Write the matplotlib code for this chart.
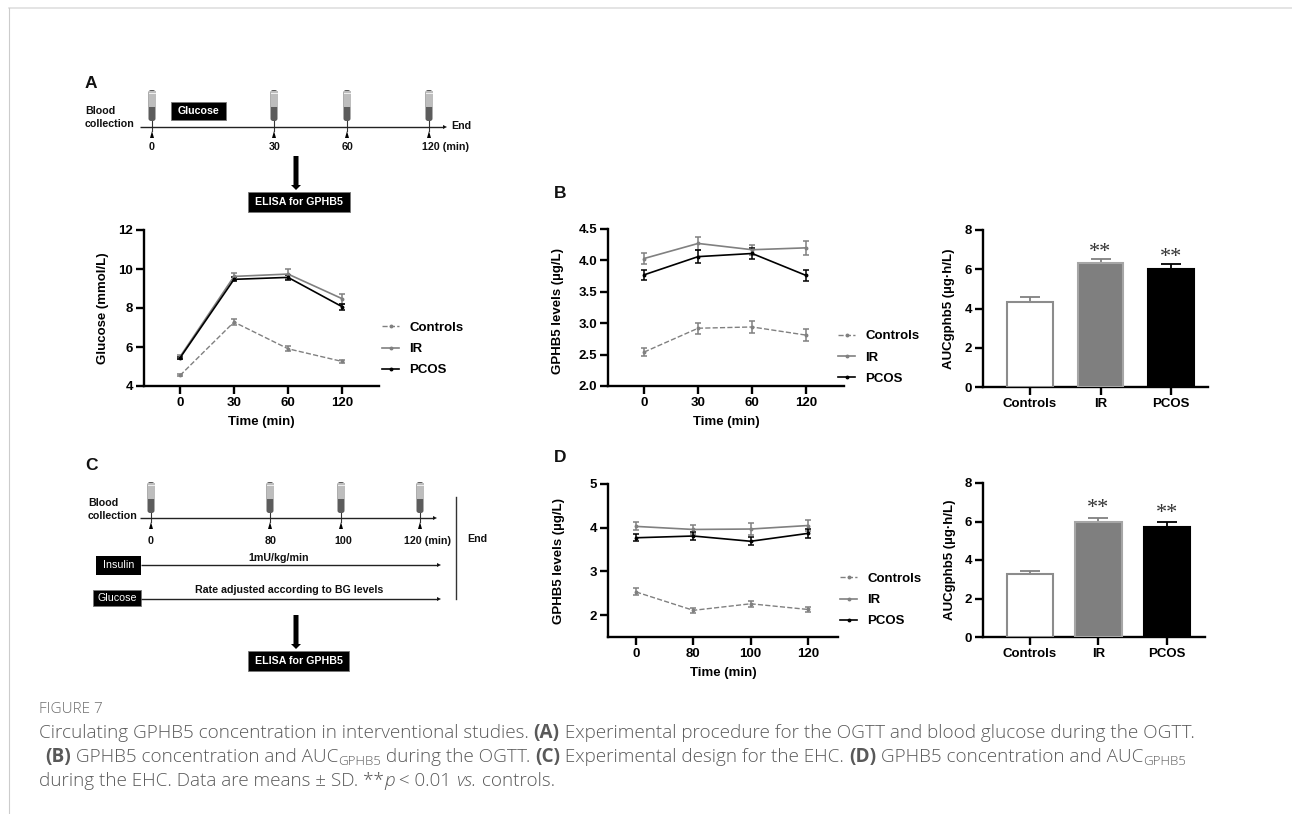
"""plot.py - Figure 7: GPHB5 during OGTT and EHC, with the two protocol schematics."""

import matplotlib
matplotlib.use("Agg")
import matplotlib.pyplot as plt
from matplotlib.patches import FancyBboxPatch, Polygon, Rectangle

W, H = 1292, 814
FONT = "Liberation Sans"
CAPTION_FONT = "Open Sans"
GREY = "#808080"
AXIS_FS = 9.5

# panel A, glucose
glucose_times = ["0", "30", "60", "120"]
glucose_controls = [4.54, 7.28, 5.91, 5.26]
glucose_controls_sd = [0.05, 0.17, 0.14, 0.09]
glucose_ir = [5.50, 9.62, 9.74, 8.48]
glucose_ir_sd = [0.09, 0.16, 0.27, 0.25]
glucose_pcos = [5.44, 9.47, 9.57, 8.07]
glucose_pcos_sd = [0.07, 0.10, 0.14, 0.16]

# panel B, GPHB5 during the OGTT
ogtt_times = ["0", "30", "60", "120"]
ogtt_controls = [2.54, 2.92, 2.94, 2.81]
ogtt_controls_sd = [0.07, 0.09, 0.10, 0.09]
ogtt_ir = [4.03, 4.27, 4.17, 4.20]
ogtt_ir_sd = [0.09, 0.11, 0.08, 0.11]
ogtt_pcos = [3.77, 4.06, 4.11, 3.76]
ogtt_pcos_sd = [0.08, 0.10, 0.09, 0.09]

# panel D, GPHB5 during the EHC
ehc_times = ["0", "80", "100", "120"]
ehc_controls = [2.53, 2.11, 2.26, 2.13]
ehc_controls_sd = [0.08, 0.06, 0.07, 0.06]
ehc_ir = [4.03, 3.96, 3.97, 4.05]
ehc_ir_sd = [0.09, 0.11, 0.13, 0.12]
ehc_pcos = [3.77, 3.81, 3.69, 3.87]
ehc_pcos_sd = [0.08, 0.10, 0.09, 0.10]

# AUC bars
groups = ["Controls", "IR", "PCOS"]
auc_ogtt = [4.33, 6.30, 6.00]
auc_ogtt_sd = [0.27, 0.23, 0.27]
auc_ehc = [3.25, 5.95, 5.70]
auc_ehc_sd = [0.17, 0.25, 0.27]

plt.rcParams["font.family"] = [FONT, "DejaVu Sans"]
plt.rcParams["font.weight"] = "bold"
plt.rcParams["axes.labelweight"] = "bold"

fig = plt.figure(figsize=(W / 100, H / 100), dpi=100)

# whole-figure overlay in pixel coordinates, for the schematics and caption
pg = fig.add_axes([0, 0, 1, 1], zorder=0)
pg.set_xlim(0, W)
pg.set_ylim(H, 0)
pg.axis("off")


def axes_px(left, right, top, bottom):
    return fig.add_axes([left / W, 1 - bottom / H, (right - left) / W, (bottom - top) / H], zorder=2)


def style_axes(ax, box, label_x, label_y=0.5):
    for side in ("top", "right"):
        ax.spines[side].set_visible(False)
    for side in ("left", "bottom"):
        ax.spines[side].set_linewidth(1.7)
    ax.tick_params(width=1.7, length=5.5, labelsize=AXIS_FS, pad=2.5)
    ax.patch.set_alpha(0)
    ax.yaxis.set_label_coords((label_x - box[0]) / (box[1] - box[0]), label_y)


def time_panel(box, xlim, ylim, yticks, yfmt, times, series, ylabel, label_x, label_y, legend_at):
    ax = axes_px(*box)
    xs = range(len(times))
    styles = [("Controls", GREY, "--", 1.0), ("IR", GREY, "-", 1.2), ("PCOS", "black", "-", 1.2)]
    for (name, color, ls, lw), (vals, sd) in zip(styles, series):
        line = ax.errorbar(xs, vals, yerr=sd, color=color, ls=ls, lw=lw, marker="o", ms=1.8,
                           elinewidth=1.1, capsize=2, capthick=1.1, label=name, clip_on=False)
        line[-1][0].set_linestyle("-")
    ax.set_xlim(*xlim)
    ax.set_ylim(*ylim)
    ax.set_xticks(list(xs), times)
    ax.set_yticks(yticks, [yfmt.format(t) for t in yticks])
    ax.set_xlabel("Time (min)", fontsize=AXIS_FS, labelpad=5)
    ax.set_ylabel(ylabel, fontsize=AXIS_FS)
    style_axes(ax, box, label_x, label_y)
    handles, labels = ax.get_legend_handles_labels()
    handles = [h[0] for h in handles]
    ax.legend(handles, labels, frameon=False, loc="center left", fontsize=AXIS_FS, borderpad=0, borderaxespad=0,
              handlelength=1.3, handletextpad=0.75, labelspacing=0.68,
              bbox_to_anchor=(legend_at[0] / W, 1 - legend_at[1] / H), bbox_transform=fig.transFigure)
    return ax


def auc_panel(box, xlim, bar_w, values, sd, stars_y, label_x):
    ax = axes_px(*box)
    xs = range(len(groups))
    faces = ["white", "#7f7f7f", "black"]
    edges = ["#8c8c8c", "#a6a6a6", "black"]
    caps = [GREY, GREY, "black"]
    ax.bar(xs, values, width=bar_w, color=faces, edgecolor=edges, linewidth=1.5, zorder=3)
    for x, v, s, c in zip(xs, values, sd, caps):
        ax.errorbar(x, v, yerr=[[0], [s]], color=c, elinewidth=1.3, capsize=7, capthick=1.3, zorder=2)
    for x, y in zip(xs[1:], stars_y):
        ax.text(x, y, "**", ha="center", va="center", fontsize=16, color="#333333",
                family="Liberation Serif", fontweight="normal")
    ax.set_xlim(*xlim)
    ax.set_ylim(0, 8)
    ax.set_xticks(list(xs), groups)
    ax.set_yticks([0, 2, 4, 6, 8])
    ax.set_ylabel("AUCgphb5 (µg·h/L)", fontsize=AXIS_FS)
    style_axes(ax, box, label_x)
    return ax


time_panel((144, 379, 230, 386), (-0.667, 3.685), (4, 12), [4, 6, 8, 10, 12], "{:d}", glucose_times,
           [(glucose_controls, glucose_controls_sd), (glucose_ir, glucose_ir_sd), (glucose_pcos, glucose_pcos_sd)],
           "Glucose (mmol/L)", 109, 0.5, (382, 349))
time_panel((608, 844, 229, 386), (-0.667, 3.7), (2, 4.5), [2, 2.5, 3, 3.5, 4, 4.5], "{:.1f}", ogtt_times,
           [(ogtt_controls, ogtt_controls_sd), (ogtt_ir, ogtt_ir_sd), (ogtt_pcos, ogtt_pcos_sd)],
           "GPHB5 levels (µg/L)", 564, 0.48, (838, 357.5))
time_panel((608, 838, 484, 637), (-0.49, 3.525), (1.5, 5), [2, 3, 4, 5], "{:d}", ehc_times,
           [(ehc_controls, ehc_controls_sd), (ehc_ir, ehc_ir_sd), (ehc_pcos, ehc_pcos_sd)],
           "GPHB5 levels (µg/L)", 565, 0.5, (840, 600))
auc_panel((983, 1208, 230, 387), (-0.667, 2.525), 0.65, auc_ogtt, auc_ogtt_sd, [6.85, 6.6], 955)
auc_panel((983, 1205, 483, 637), (-0.686, 2.555), 0.68, auc_ehc, auc_ehc_sd, [6.65, 6.4], 956)


# ---- schematics ----
def tube(x, top, bottom):
    pg.add_patch(FancyBboxPatch((x - 3.5, top), 7, bottom - top, boxstyle="round,pad=0,rounding_size=2.5",
                                fc="#5c5c5c", ec="none"))
    pg.add_patch(Rectangle((x - 3.5, top + 1), 7, (bottom - top) * 0.52, fc="#bdbdbd", ec="none"))
    pg.add_patch(Rectangle((x - 3.5, top + 2.5), 7, 1.5, fc="#eeeeee", ec="none"))


def arrow(x0, x1, y, lw=1.0):
    pg.plot([x0, x1], [y, y], color="#222222", lw=lw, solid_capstyle="butt")
    pg.add_patch(Polygon([(x1, y - 2), (x1 + 4, y), (x1, y + 2)], fc="#111111", ec="none"))


def sample_marks(xs, line_y, top):
    for x in xs:
        tube(x, top, top + 31)
        pg.plot([x, x], [top + 31, line_y + 4], color="#333333", lw=0.8)
        pg.add_patch(Polygon([(x - 2, line_y + 11), (x, line_y + 4), (x + 2, line_y + 11)], fc="black", ec="none"))


def label(x, y, s, ha="center", size=7.7, color="#111111", **kw):
    pg.text(x, y, s, ha=ha, va="center", fontsize=size, color=color, **kw)


def black_box(x0, x1, y0, y1, s, size=7.7, edge="#777777", **kw):
    pg.add_patch(Rectangle((x0, y0), x1 - x0, y1 - y0, fc="black", ec=edge, lw=0.6))
    label((x0 + x1) / 2, (y0 + y1) / 2, s, size=size, color="white", **kw)


def down_arrow(x, y0, y1):
    pg.add_patch(Polygon([(x - 2.5, y0), (x + 2.5, y0), (x + 2.5, y1 - 5), (x + 5, y1 - 5), (x, y1), (x - 5, y1 - 5),
                          (x - 2.5, y1 - 5)], fc="black", ec="none"))


label(85, 83, "A", ha="left", size=12.5)
sample_marks([152, 274, 347, 429], 127, 90)
arrow(140, 443, 127)
label(85, 111, "Blood", ha="left")
label(85, 124, "collection", ha="left")
label(451, 126, "End", ha="left")
black_box(171, 226, 102, 120, "Glucose")
for x, s in zip([152, 275, 348], ["0", "30", "60"]):
    label(x, 147, s)
label(445, 147, "120 (min)")
down_arrow(296, 156, 190)
black_box(248, 350, 192, 212, "ELISA for GPHB5")

label(85, 465, "C", ha="left", size=12.5)
sample_marks([151, 270, 341, 420], 518, 482)
arrow(140, 433, 518)
label(88, 503, "Blood", ha="left")
label(88, 516, "collection", ha="left")
for x, s in zip([151, 271, 343], ["0", "80", "100"]):
    label(x, 541, s)
label(428, 541, "120 (min)")
label(467, 539, "End", ha="left")
black_box(96, 141, 556, 575, "Insulin", edge="none", fontweight="normal")
black_box(93, 141, 590, 606, "Glucose", fontweight="normal")
arrow(141, 437, 565)
arrow(141, 437, 599)
label(279, 558, "1mU/kg/min")
label(289, 590, "Rate adjusted according to BG levels")
pg.plot([456, 456], [497, 599], color="#333333", lw=1.0)
down_arrow(296, 615, 649)
black_box(248, 349, 651, 671, "ELISA for GPHB5")

label(554, 194, "B", ha="left", size=12.5)
label(554, 457, "D", ha="left", size=12.5)

# ---- page frame and caption ----
pg.plot([9, W], [7.5, 7.5], color="#dddddd", lw=1.1)
pg.plot([9, 9], [7.5, H], color="#cccccc", lw=0.8)


def text_runs(x, y, runs, size=13.6, color="#595959"):
    """Lay runs of differently styled text end to end on one baseline."""
    rend = fig.canvas.get_renderer()
    for r in runs:
        s, kind = r if isinstance(r, tuple) else (r, "")
        kw = dict(family=[CAPTION_FONT, "DejaVu Sans"], color=color, va="baseline", ha="left", fontweight="light")
        fs, dy = size, 0
        if kind == "b":
            kw["fontweight"] = "bold"
        elif kind == "i":
            kw["fontstyle"] = "italic"
        elif kind == "sub":
            fs, dy = size * 0.7, 3
        t = pg.text(x, y + dy, s, fontsize=fs, **kw)
        x = x + t.get_window_extent(rend).width


text_runs(39, 713, ["FIGURE 7"], size=11, color="#6e6e6e")
text_runs(39, 738, ["Circulating GPHB5 concentration in interventional studies. ", ("(A)", "b"),
                    " Experimental procedure for the OGTT and blood glucose during the OGTT."])
text_runs(45, 762, [("(B)", "b"), " GPHB5 concentration and AUC", ("GPHB5", "sub"), " during the OGTT. ", ("(C)", "b"),
                    " Experimental design for the EHC. ", ("(D)", "b"), " GPHB5 concentration and AUC", ("GPHB5", "sub")])
text_runs(39, 786, ["during the EHC. Data are means ± SD. **", ("p", "i"), " < 0.01 ", ("vs.", "i"), " controls."])

fig.savefig("out.png", dpi=100)
